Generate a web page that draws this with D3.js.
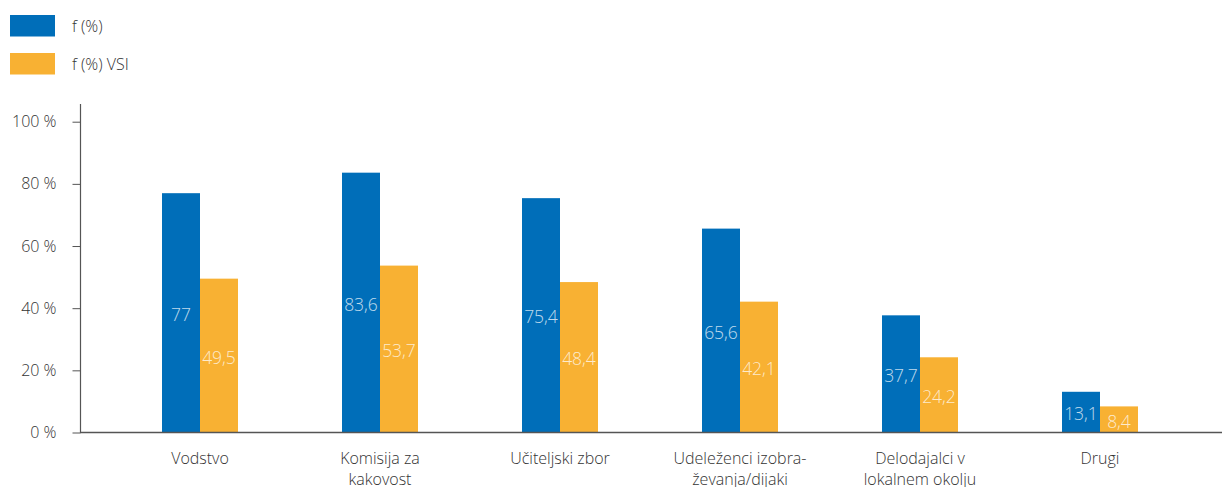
<!DOCTYPE html>
<html><head><meta charset="utf-8">
<script src="https://cdn.jsdelivr.net/npm/d3@7"></script>
<style>
body{margin:0;background:#fff;}
text{font-family:"Open Sans","Noto Sans",sans-serif;}
</style></head>
<body><svg id="c" width="1224" height="487"></svg>
<script>
const categories = [["Vodstvo"],["Komisija za","kakovost"],["Učiteljski zbor"],["Udeleženci izobra-","ževanja/dijaki"],["Delodajalci v","lokalnem okolju"],["Drugi"]];
const seriesNames = ["f (%)","f (%) VSI"];
const fValues = [77, 83.6, 75.4, 65.6, 37.7, 13.1];
const vsiValues = [49.5, 53.7, 48.4, 42.1, 24.2, 8.4];
const yTicks = [0,20,40,60,80,100];
const colors = ["#006eb9","#f8b133"];

const svg = d3.select("#c");
const keys = categories.map((c,i)=>"c"+i);
const x = d3.scaleBand().domain(keys).range([110,1190]).padding(0);
const x1 = d3.scaleBand().domain(seriesNames).range([52,128]);
const y = d3.scaleLinear().domain([0,100]).range([432.5,121.7]);

// legend
seriesNames.forEach((s,i)=>{
  const g = svg.append("g").attr("transform",`translate(10,${15+i*38})`);
  g.append("rect").attr("width",45).attr("height",21.5).attr("fill",colors[i]);
  g.append("text").attr("x",62).attr("y",11).attr("dy","0.35em").attr("font-size",16).attr("font-weight",300).attr("fill","#333").text(s);
});

// bars
const data = [fValues, vsiValues];
data.forEach((vals,si)=>{
  const g = svg.append("g");
  g.selectAll("rect").data(vals).join("rect")
    .attr("x",(d,i)=>x(keys[i])+x1(seriesNames[si]))
    .attr("width",x1.bandwidth())
    .attr("y",d=>y(d)).attr("height",d=>y(0)-y(d))
    .attr("fill",colors[si]);
  g.selectAll("text").data(vals).join("text")
    .attr("x",(d,i)=>x(keys[i])+x1(seriesNames[si])+x1.bandwidth()/2)
    .attr("y",d=>(y(d)+y(0))/2+2)
    .attr("dy","0.35em").attr("text-anchor","middle")
    .attr("font-size",17.5).attr("font-weight",300)
    .attr("fill","#fff").attr("fill-opacity",0.75)
    .text(d=>String(d).replace(".",","));
});

// y axis
const yAxis = d3.axisLeft(y).tickValues(yTicks).tickSize(8).tickFormat(d=>d+" %");
const ya = svg.append("g").attr("transform","translate(80.5,0)").call(yAxis);
ya.select(".domain").remove();
ya.selectAll(".tick line").attr("stroke","#555");
ya.selectAll(".tick text").attr("x",-24).attr("font-size",16).attr("font-weight",300).attr("fill","#333").attr("font-family","Open Sans, Noto Sans, sans-serif");
svg.append("line").attr("x1",80.5).attr("x2",80.5).attr("y1",104).attr("y2",433).attr("stroke","#555").attr("stroke-width",1.2);

// x axis
const xAxis = d3.axisBottom(x).tickSize(0).tickFormat("");
const xa = svg.append("g").attr("transform","translate(0,432.5)").call(xAxis);
xa.select(".domain").remove();
svg.append("line").attr("x1",80).attr("x2",1222).attr("y1",432.5).attr("y2",432.5).attr("stroke","#555").attr("stroke-width",1.3);

// category labels
categories.forEach((lines,i)=>{
  const cx = x(keys[i])+x.bandwidth()/2;
  const t = svg.append("text").attr("x",cx).attr("y",464)
    .attr("text-anchor","middle").attr("font-size",16).attr("font-weight",300).attr("fill","#333");
  lines.forEach((l,j)=>t.append("tspan").attr("x",cx).attr("dy",j?20.5:0).text(l));
});
</script></body></html>
